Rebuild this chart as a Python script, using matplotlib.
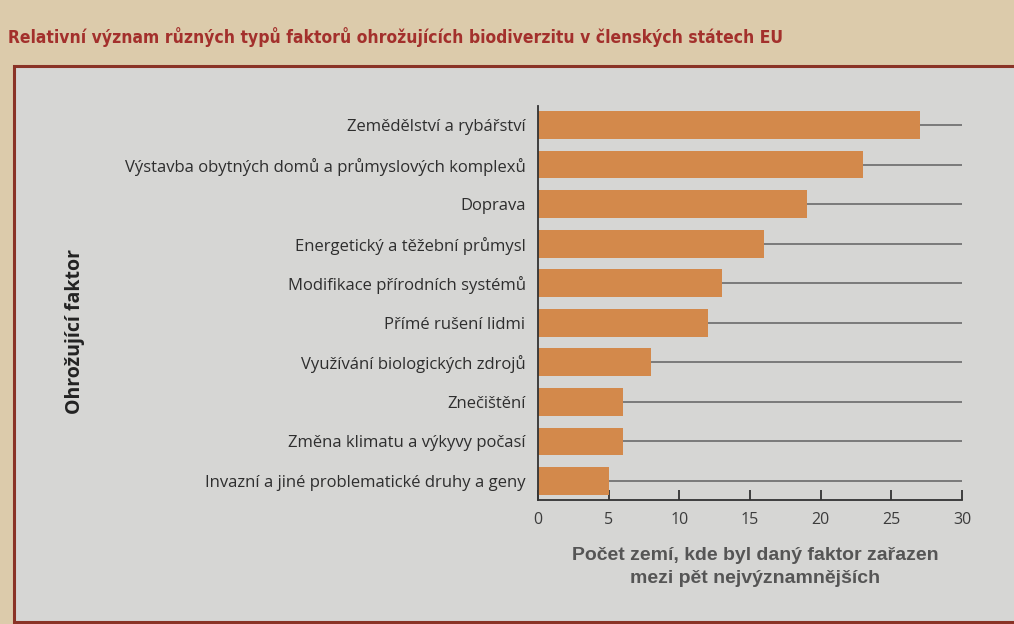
import matplotlib
matplotlib.use("Agg")
import matplotlib.pyplot as plt
from matplotlib.patches import Rectangle
from matplotlib import font_manager

# Threat categories (top to bottom) and number of countries ranking them in the top five
categories = [
    "Zemědělství a rybářství",
    "Výstavba obytných domů a průmyslových komplexů",
    "Doprava",
    "Energetický a těžební průmysl",
    "Modifikace přírodních systémů",
    "Přímé rušení lidmi",
    "Využívání biologických zdrojů",
    "Znečištění",
    "Změna klimatu a výkyvy počasí",
    "Invazní a jiné problematické druhy a geny",
]
counts = [27, 23, 19, 16, 13, 12, 8, 6, 6, 5]
x_ticks = [0, 5, 10, 15, 20, 25, 30]

title = "Relativní význam různých typů faktorů ohrožujících biodiverzitu v členských státech EU"
x_label = "Počet zemí, kde byl daný faktor zařazen\nmezi pět nejvýznamnějších"
y_label = "Ohrožující faktor"

W, H = 1014, 624
fig = plt.figure(figsize=(W / 100, H / 100), dpi=100)
fig.patch.set_facecolor("#dccbab")

# light panel with a dark red frame
panel = Rectangle((14 / W, 2 / H), 1.2, 1 - 68 / H, transform=fig.transFigure,
                  facecolor="#d6d6d4", edgecolor="#8a3326", linewidth=2.2, zorder=0)
fig.patches.append(panel)

# narrow bold face for the heading, if one is installed
names = {f.name for f in font_manager.fontManager.ttflist}
if "Liberation Sans Narrow" in names:
    title_font = dict(family="Liberation Sans Narrow", fontsize=15.1)
else:
    title_font = dict(family="DejaVu Sans", fontstretch="condensed", fontsize=12.5)

fig.text(8 / W, 1 - 37 / H, title, fontweight="bold", color="#a3302c",
         va="center", ha="left", **title_font)

ax = fig.add_axes([538 / W, 1 - 500 / H, (962 - 538) / W, (500 - 106) / H])
ax.set_zorder(2)
ax.set_facecolor("none")

ypos = list(range(len(categories)))
ax.hlines(ypos, counts, 30, color="#7a7a7a", linewidth=1.4, zorder=1)
ax.barh(ypos, counts, height=0.7, color="#d3894b", zorder=2)

ax.set_xlim(0, 30)
ax.set_ylim(len(categories) - 0.52, -0.48)
ax.set_xticks(x_ticks)
ax.set_xticklabels([str(t) for t in x_ticks], fontsize=11.5, color="#3c3c3c",
                   family="Open Sans")
ax.set_yticks(ypos)
ax.set_yticklabels(categories, fontsize=12, color="#2e2e2e", family="Open Sans")

ax.tick_params(axis="y", length=0, pad=9)
ax.tick_params(axis="x", direction="in", length=7, width=1.3, color="#333333", pad=9)

for side in ("top", "right"):
    ax.spines[side].set_visible(False)
for side in ("left", "bottom"):
    ax.spines[side].set_color("#333333")
    ax.spines[side].set_linewidth(1.3)

fig.text(755 / W, 1 - 567 / H, x_label, fontsize=14, fontweight="bold",
         color="#555555", family=["Liberation Sans", "DejaVu Sans"],
         ha="center", va="center", linespacing=1.4)

fig.text(75 / W, 1 - 332 / H, y_label, fontsize=14, fontweight="bold",
         color="#222222", family=["Open Sans", "DejaVu Sans"],
         rotation=90, ha="center", va="center")

fig.savefig("out.png", dpi=100, facecolor=fig.get_facecolor())
